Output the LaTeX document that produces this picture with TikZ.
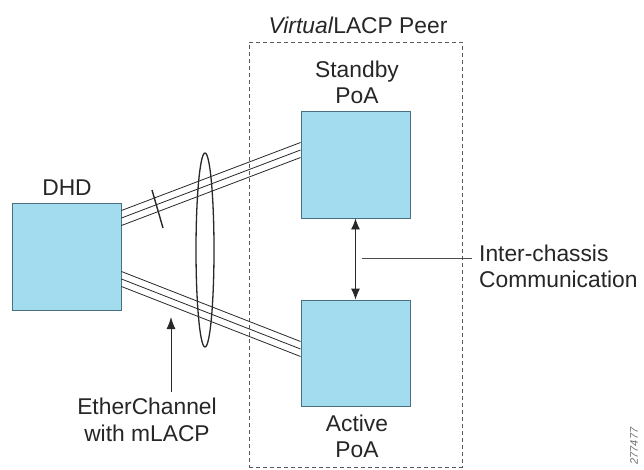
\documentclass[tikz,border=0pt]{standalone}
\usepackage{fontspec}
\setmainfont{Liberation Sans}
\usetikzlibrary{arrows.meta,calc,shapes.geometric}
\definecolor{boxfill}{RGB}{164,220,239}
\definecolor{boxline}{RGB}{72,112,128}
\definecolor{linecol}{RGB}{40,40,40}
\tikzset{
  devbox/.style={draw=boxline, fill=boxfill, line width=0.9pt, minimum width=109pt, minimum height=107pt, inner sep=0pt},
  lbl/.style={font=\fontsize{22.8}{26.5}\selectfont, text=black!85, align=center, inner sep=0pt},
  link/.style={draw=linecol, line width=0.8pt},
  peerbox/.style={draw=black!65, line width=0.8pt, dash pattern=on 4pt off 3pt, minimum width=213pt, minimum height=425pt, inner sep=0pt},
  arr/.style={draw=linecol, line width=0.9pt}
}
\begin{document}
\begin{tikzpicture}[x=1pt,y=-1pt]
\useasboundingbox (0,0) rectangle (644,469);
\fill[white] (0,0) rectangle (644,469);

% virtual peer dashed box
\node[peerbox] (peer) at (355.5,254.5) {};
\node[lbl] (peertitle) at (358,25) {\textit{Virtual}LACP Peer};

% devices
\node[devbox] (dhd) at (66.5,256.5) {};
\node[devbox] (standby) at (355.5,164.5) {};
\node[devbox, minimum height=106pt] (active) at (355.5,353) {};

\node[lbl] (dhdl) at (67,188) {DHD};
\node[lbl] (stl) at (357,82.5) {Standby\\PoA};
\node[lbl] (acl) at (357,436.5) {Active\\PoA};

% top bundle
\foreach \o [count=\i] in {-7.5,0,7.5}{
  \coordinate (ta\i) at ($(dhd.east)+(0,-38.5+\o)$);
  \coordinate (tb\i) at ($(standby.west)+(0,-14.5+\o)$);
  \draw[link] (ta\i) -- (tb\i);
}
% bottom bundle
\foreach \o [count=\i] in {-7.5,0,7.5}{
  \coordinate (ba\i) at ($(dhd.east)+(0,22.5+\o)$);
  \coordinate (bb\i) at ($(active.west)+(0,-4+\o)$);
  \draw[link] (ba\i) -- (bb\i);
}
% slash on top bundle
\draw[draw=linecol, line width=1.4pt] (152,190) -- (163,228);

% ellipse around bundles
\node[ellipse, draw=linecol, line width=1.3pt, minimum width=18pt, minimum height=194pt, inner sep=0pt] (ring) at (205,250) {};

% inter-chassis arrow
\draw[arr, {Latex[length=11pt,width=9pt]}-{Latex[length=11pt,width=9pt]}] (standby.south) -- (active.north);
\coordinate (icl) at (362,258);
\node[lbl, align=left, anchor=west] (ic) at (479,266.5) {Inter-chassis\\Communication};
\coordinate (icr) at (472,258);
\draw[draw=black!70, line width=0.8pt] (icl) -- (icr);

% EtherChannel label and arrow
\node[lbl] (ec) at (147,420) {EtherChannel\\with mLACP};
\coordinate (ectip) at (171,317);
\draw[arr, -{Latex[length=12pt,width=9pt]}] (ectip |- ec.north) ++(0,-6) -- (ectip);

% figure id
\node[rotate=90, font=\fontsize{11}{11}\selectfont\itshape, text=black!55, inner sep=0pt] (fig) at (634,446) {277477};
\end{tikzpicture}
\end{document}
